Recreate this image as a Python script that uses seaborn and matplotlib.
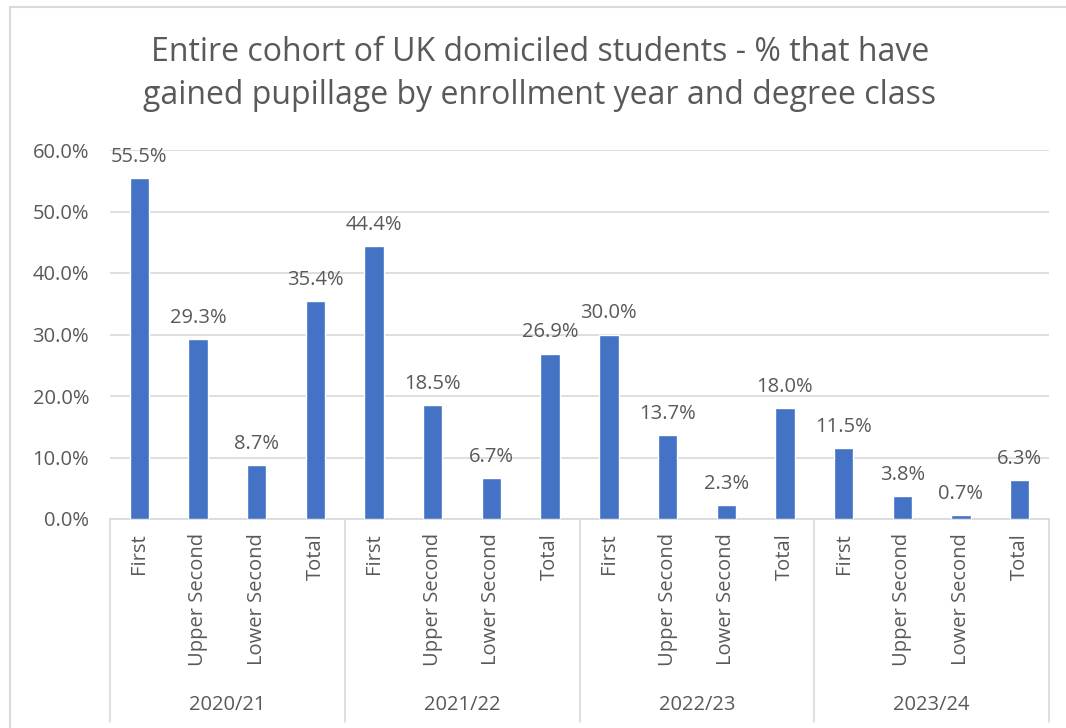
import matplotlib
matplotlib.use("Agg")
import matplotlib.pyplot as plt
from matplotlib.ticker import FuncFormatter, MultipleLocator
import seaborn as sns
import pandas as pd

years = ["2020/21", "2021/22", "2022/23", "2023/24"]
classes = ["First", "Upper Second", "Lower Second", "Total"]
pct_2020 = [55.5, 29.3, 8.7, 35.4]
pct_2021 = [44.4, 18.5, 6.7, 26.9]
pct_2022 = [30.0, 13.7, 2.3, 18.0]
pct_2023 = [11.5, 3.8, 0.7, 6.3]
title = "Entire cohort of UK domiciled students - % that have\ngained pupillage by enrollment year and degree class"

rows = []
for yr, vals in zip(years, [pct_2020, pct_2021, pct_2022, pct_2023]):
    for cls, v in zip(classes, vals):
        rows.append({"year": yr, "cls": cls, "key": f"{yr} {cls}", "pct": v})
df = pd.DataFrame(rows)

sns.set_theme(style="white")
plt.rcParams["font.family"] = ["Open Sans", "DejaVu Sans"]
TXT = "#595959"
GRID = "#D9D9D9"
BAR = "#4472C4"
FS = 14.5

fig = plt.figure(figsize=(10.66, 7.28), dpi=100)
ax = fig.add_axes([110 / 1066, 1 - 519 / 728, (1049 - 110) / 1066, (519 - 150) / 728])

sns.barplot(data=df, x="key", y="pct", order=df["key"].tolist(), color=BAR,
            width=0.33, saturation=1, ax=ax, zorder=3)

ax.set_ylim(0, 60)
ax.set_xlim(-0.5, len(df) - 0.5)
ax.yaxis.set_major_locator(MultipleLocator(10))
ax.yaxis.set_major_formatter(FuncFormatter(lambda v, p: f"{v:.1f}%"))
ax.grid(axis="y", color=GRID, linewidth=1.2, zorder=0)
ax.set_xlabel("")
ax.set_ylabel("")
for s in ["top", "right", "left"]:
    ax.spines[s].set_visible(False)
ax.spines["bottom"].set_color(GRID)
ax.spines["bottom"].set_linewidth(1.2)
ax.tick_params(axis="y", length=0, labelsize=FS, colors=TXT, pad=15)
ax.set_xticks(range(len(df)))
ax.set_xticklabels(df["cls"], rotation=90, va="top", ha="center")
ax.tick_params(axis="x", length=0, labelsize=FS, colors=TXT, pad=10)

for c in ax.containers:
    ax.bar_label(c, fmt="%.1f%%", padding=8, fontsize=FS, color=TXT)

# Group separators and year labels below the category labels
n = len(classes)
for g in range(len(years) + 1):
    xpos = g * n - 0.5
    ax.plot([xpos, xpos], [0, -0.55], transform=ax.get_xaxis_transform(),
            color=GRID, linewidth=1.2, clip_on=False)
for g, yr in enumerate(years):
    ax.text(g * n + (n - 1) / 2, -0.505, yr, transform=ax.get_xaxis_transform(),
            ha="center", va="center", fontsize=FS, color=TXT)

fig.text(540 / 1066, 1 - 74 / 728, title, ha="center", va="center",
         fontsize=23, color=TXT, linespacing=1.4)

# Chart border
fig.patches.append(plt.Rectangle((10 / 1066, -0.1), 1.2, 1 - 7 / 728 + 0.1,
                                 transform=fig.transFigure, fill=False,
                                 edgecolor=GRID, linewidth=1.5))

fig.savefig("out.png", dpi=100)
